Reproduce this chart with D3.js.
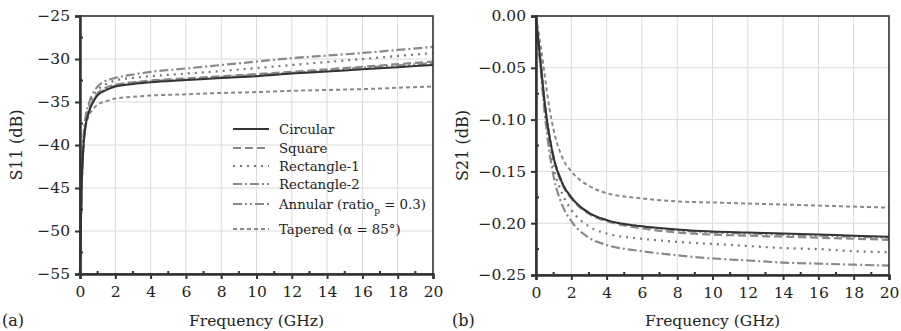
<!DOCTYPE html>
<html>
<head>
<meta charset="utf-8">
<script src="https://cdn.jsdelivr.net/npm/d3@7"></script>
<style>
  body { margin: 0; background: #fff; }
  text { font-family: "DejaVu Serif", "Liberation Serif", serif; fill: #222; }
</style>
</head>
<body>
<svg id="svgID" width="901" height="331"></svg>
<script>
// frequency samples (GHz)
var freq = [0, 0.05, 0.1, 0.2, 0.3, 0.5, 0.75, 1, 1.5, 2, 3, 4, 6, 8, 10, 12, 14, 16, 18, 20];

// S11 (dB)
var s11Circular = [-55, -49, -44.5, -40, -38, -36.2, -35, -34.2, -33.6, -33.2, -32.9, -32.7, -32.45, -32.2, -32.0, -31.7, -31.45, -31.2, -30.95, -30.7];
var s11Square = [-55, -49, -44.5, -40, -38, -36.0, -34.8, -34.0, -33.3, -33.0, -32.7, -32.5, -32.25, -32.0, -31.75, -31.5, -31.2, -30.9, -30.6, -30.3];
var s11Rect1 = [-55, -49, -44, -39.5, -37.5, -35.6, -34.3, -33.6, -32.9, -32.5, -32.2, -32.0, -31.7, -31.4, -31.05, -30.7, -30.35, -30.0, -29.65, -29.3];
var s11Rect2 = [-55, -48.5, -44, -39, -37, -35.2, -33.9, -33.2, -32.5, -32.2, -31.8, -31.5, -31.1, -30.7, -30.3, -29.9, -29.6, -29.3, -28.95, -28.6];
var s11Annular = [-55, -49, -44.5, -40, -38, -36.1, -34.9, -34.1, -33.5, -33.1, -32.8, -32.6, -32.35, -32.1, -31.85, -31.6, -31.3, -31.0, -30.75, -30.5];
var s11Tapered = [-55, -49, -44.5, -40, -38.2, -36.6, -35.8, -35.3, -34.9, -34.6, -34.4, -34.25, -34.1, -33.95, -33.85, -33.7, -33.6, -33.5, -33.35, -33.2];

// S21 (dB)
var s21Circular = [-0.003, -0.010, -0.018, -0.035, -0.052, -0.085, -0.115, -0.137, -0.162, -0.175, -0.190, -0.197, -0.203, -0.206, -0.208, -0.209, -0.210, -0.211, -0.212, -0.213];
var s21Square = [-0.003, -0.010, -0.018, -0.035, -0.052, -0.086, -0.116, -0.138, -0.163, -0.176, -0.191, -0.198, -0.205, -0.209, -0.211, -0.212, -0.213, -0.214, -0.215, -0.216];
var s21Rect1 = [-0.003, -0.010, -0.019, -0.037, -0.055, -0.090, -0.122, -0.146, -0.172, -0.187, -0.203, -0.210, -0.215, -0.218, -0.220, -0.222, -0.224, -0.225, -0.227, -0.228];
var s21Rect2 = [-0.003, -0.011, -0.020, -0.039, -0.058, -0.095, -0.130, -0.155, -0.183, -0.198, -0.214, -0.221, -0.227, -0.231, -0.234, -0.236, -0.238, -0.239, -0.240, -0.241];
var s21Annular = [-0.003, -0.010, -0.018, -0.034, -0.051, -0.084, -0.114, -0.136, -0.161, -0.175, -0.190, -0.197, -0.203, -0.207, -0.209, -0.210, -0.211, -0.212, -0.213, -0.214];
var s21Tapered = [-0.002, -0.006, -0.011, -0.022, -0.033, -0.058, -0.088, -0.110, -0.137, -0.150, -0.164, -0.171, -0.176, -0.179, -0.180, -0.181, -0.182, -0.183, -0.184, -0.185];

var names = ["Circular", "Square", "Rectangle-1", "Rectangle-2", "Annular", "Tapered"];
var xTicks = [0, 2, 4, 6, 8, 10, 12, 14, 16, 18, 20];
var s11Ticks = [-55, -50, -45, -40, -35, -30, -25];
var s21Ticks = [-0.25, -0.20, -0.15, -0.10, -0.05, 0.00];

// line styles per series
var styles = {
    "Circular":    { color: "#333", dash: null,             width: 2 },
    "Square":      { color: "#888", dash: "8,4",            width: 2.2 },
    "Rectangle-1": { color: "#777", dash: "2,5",            width: 2.2 },
    "Rectangle-2": { color: "#888", dash: "9,3,2,3",        width: 2.2 },
    "Annular":     { color: "#888", dash: "9,3,2,3,2,3",    width: 2.2 },
    "Tapered":     { color: "#888", dash: "4,3",            width: 2 }
};

var svg = d3.select("#svgID");

function panel(opts) {
    var x = d3.scaleLinear().domain([0, 20]).range([opts.x0, opts.x1]);
    var y = d3.scaleLinear().domain(opts.yDomain).range([opts.y0, opts.y1]);
    var g = svg.append("g");

    // grid
    g.append("g").selectAll("line").data(xTicks).enter().append("line")
        .attr("x1", function(d) { return x(d); }).attr("x2", function(d) { return x(d); })
        .attr("y1", opts.y0).attr("y2", opts.y1)
        .style("stroke", "#dadada").style("stroke-width", 1);
    g.append("g").selectAll("line").data(opts.yTicks).enter().append("line")
        .attr("x1", opts.x0).attr("x2", opts.x1)
        .attr("y1", function(d) { return y(d); }).attr("y2", function(d) { return y(d); })
        .style("stroke", "#dadada").style("stroke-width", 1);

    // series
    var line = d3.line()
        .x(function(d) { return x(d[0]); })
        .y(function(d) { return y(d[1]); })
        .curve(d3.curveMonotoneX);
    var order = ["Tapered", "Rectangle-2", "Rectangle-1", "Annular", "Square", "Circular"];
    order.forEach(function(k) {
        var vals = opts.series[names.indexOf(k)];
        var st = styles[k];
        g.append("path")
            .datum(freq.map(function(f, i) { return [f, vals[i]]; }))
            .attr("d", line)
            .attr("fill", "none")
            .attr("stroke", st.color)
            .attr("stroke-width", st.width)
            .attr("stroke-dasharray", st.dash);
    });

    // frame
    g.append("rect")
        .attr("x", opts.x0).attr("y", opts.y1)
        .attr("width", opts.x1 - opts.x0).attr("height", opts.y0 - opts.y1)
        .attr("fill", "none").attr("stroke", "#333").attr("stroke-width", 1.6);

    // axes
    var xAxis = g.append("g").attr("transform", "translate(0," + opts.y0 + ")")
        .call(d3.axisBottom(x).tickValues(xTicks).tickSize(5).tickPadding(7));
    var yAxis = g.append("g").attr("transform", "translate(" + opts.x0 + ",0)")
        .call(d3.axisLeft(y).tickValues(opts.yTicks).tickSize(5).tickPadding(5).tickFormat(d3.format(opts.fmt)));
    [xAxis, yAxis].forEach(function(a) {
        a.select(".domain").attr("stroke", "#333").attr("stroke-width", 2.5);
        a.selectAll(".tick line").attr("stroke", "#333").attr("stroke-width", 2);
        a.selectAll(".tick text").style("font-family", "DejaVu Serif").style("font-size", "15.5px").attr("fill", "#222");
    });

    // minor ticks, inward
    g.append("g").selectAll("line").data(d3.range(1, 20, 2)).enter().append("line")
        .attr("x1", function(d) { return x(d); }).attr("x2", function(d) { return x(d); })
        .attr("y1", opts.y0).attr("y2", opts.y0 - 3)
        .attr("stroke", "#333").attr("stroke-width", 2);
    var step = opts.yTicks[1] - opts.yTicks[0];
    g.append("g").selectAll("line").data(opts.yTicks.slice(0, -1)).enter().append("line")
        .attr("x1", opts.x0).attr("x2", opts.x0 + 3)
        .attr("y1", function(d) { return y(d + step / 2); }).attr("y2", function(d) { return y(d + step / 2); })
        .attr("stroke", "#333").attr("stroke-width", 2);

    // titles
    g.append("text")
        .attr("x", (opts.x0 + opts.x1) / 2).attr("y", 326)
        .attr("text-anchor", "middle").style("font-size", "15.5px")
        .text("Frequency (GHz)");
    g.append("text")
        .attr("transform", "translate(" + opts.yTitleX + "," + ((opts.y0 + opts.y1) / 2) + ") rotate(-90)")
        .attr("text-anchor", "middle").attr("dy", "0.35em").style("font-size", "16px")
        .text(opts.yTitle);
    g.append("text")
        .attr("x", opts.tagX).attr("y", 326)
        .style("font-size", "16px")
        .text(opts.tag);
    return { x: x, y: y, g: g };
}

panel({
    x0: 80, x1: 433, y0: 274, y1: 16,
    yDomain: [-55, -25], yTicks: s11Ticks, fmt: "d",
    series: [s11Circular, s11Square, s11Rect1, s11Rect2, s11Annular, s11Tapered],
    yTitle: "S11 (dB)", yTitleX: 16, tag: "(a)", tagX: 2
});

panel({
    x0: 536, x1: 889, y0: 275, y1: 16,
    yDomain: [-0.25, 0], yTicks: s21Ticks, fmt: ".2f",
    series: [s21Circular, s21Square, s21Rect1, s21Rect2, s21Annular, s21Tapered],
    yTitle: "S21 (dB)", yTitleX: 462, tag: "(b)", tagX: 452
});

// legend in panel (a)
var legendY = [129, 148, 166, 184, 204, 229];
var legend = svg.append("g").attr("transform", "translate(233,0)");
names.forEach(function(k, i) {
    var st = styles[k];
    legend.append("line")
        .attr("x1", 0).attr("x2", 36)
        .attr("y1", legendY[i]).attr("y2", legendY[i])
        .attr("stroke", st.color).attr("stroke-width", st.width)
        .attr("stroke-dasharray", st.dash);
    var t = legend.append("text")
        .attr("x", 46).attr("y", legendY[i]).attr("dy", "0.35em")
        .style("font-size", "13.3px");
    if (k === "Annular") {
        t.append("tspan").text("Annular (ratio");
        t.append("tspan").attr("baseline-shift", "sub").style("font-size", "9px").text("p");
        t.append("tspan").text(" = 0.3)");
    } else if (k === "Tapered") {
        t.text("Tapered (\u03b1 = 85\u00b0)");
    } else {
        t.text(k);
    }
});
</script>
</body>
</html>
